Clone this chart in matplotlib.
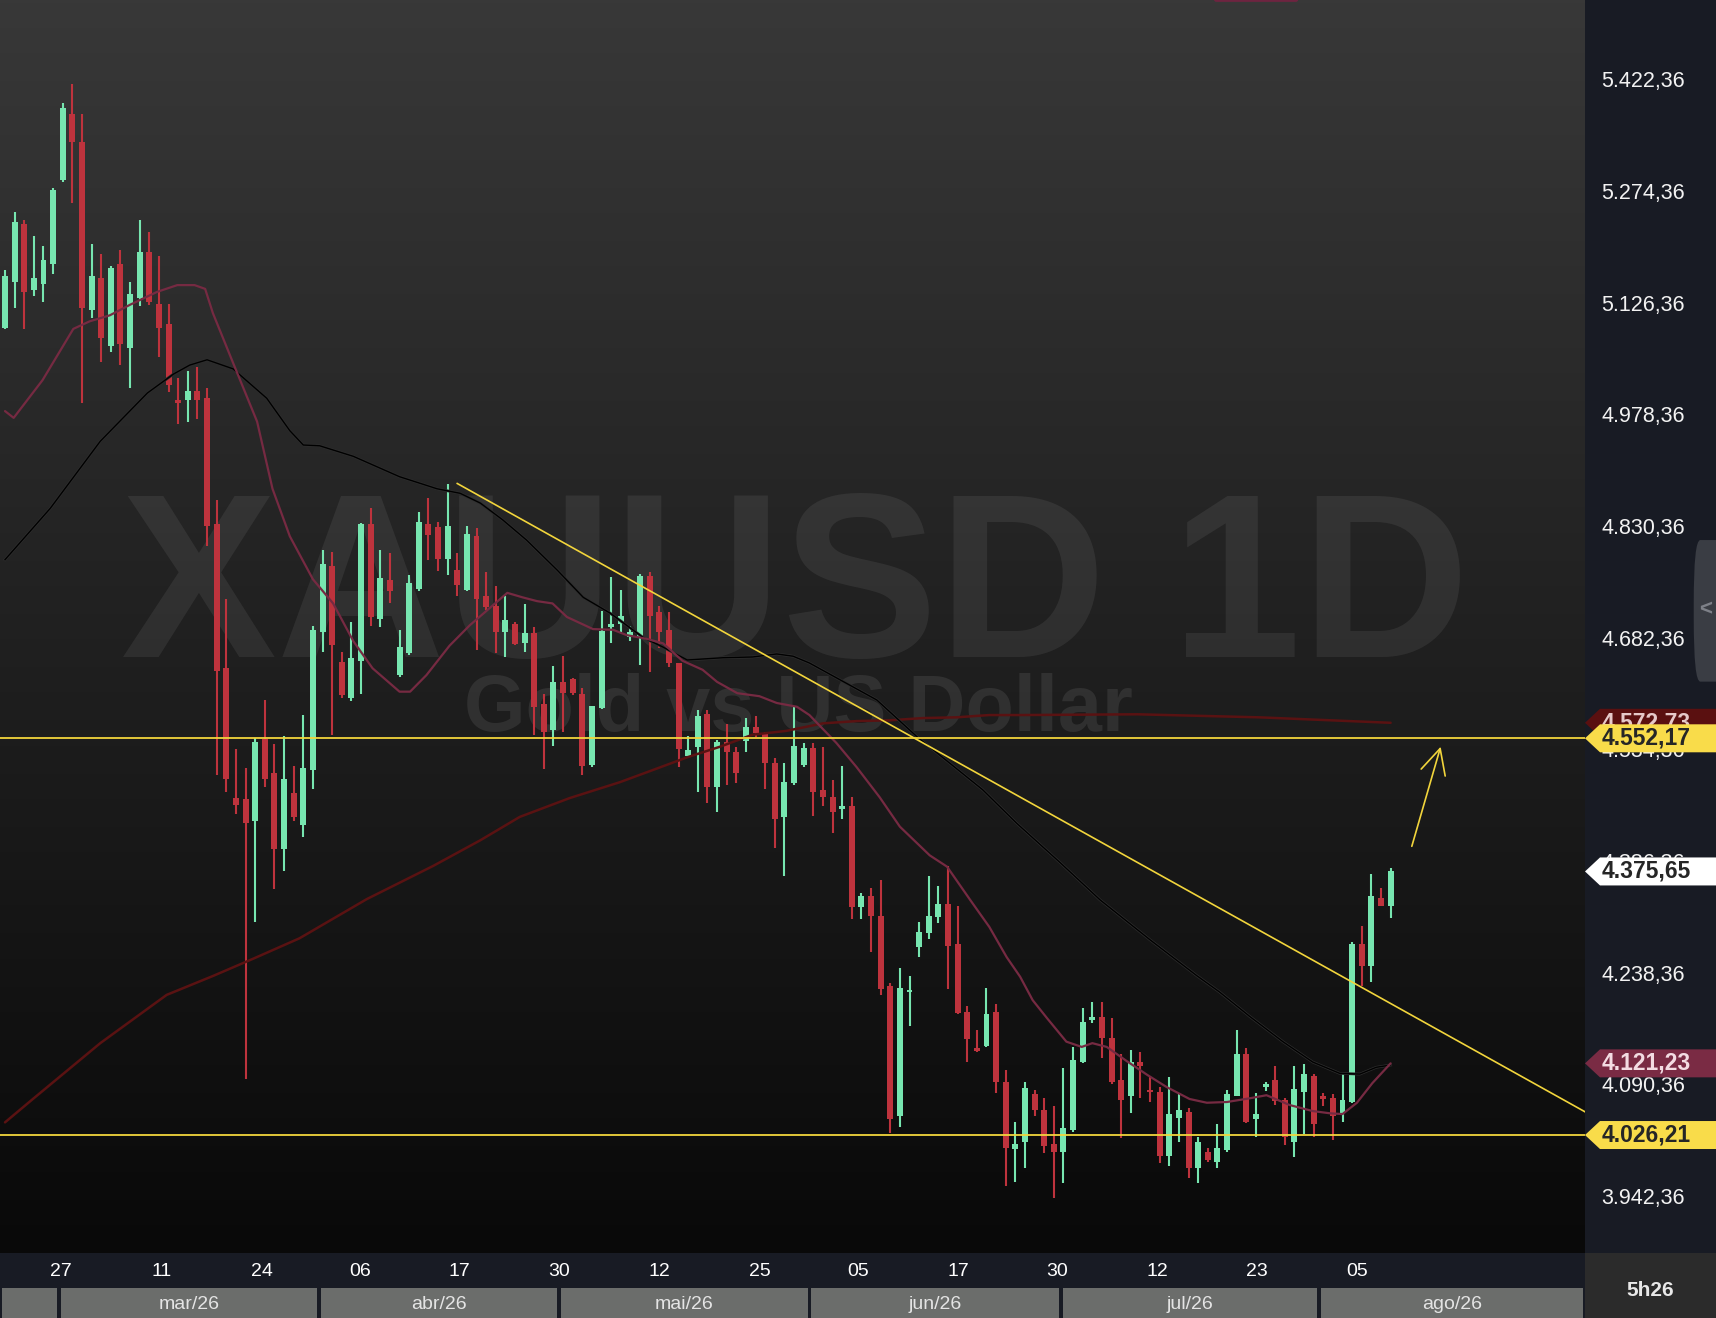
import numpy as np
import matplotlib.pyplot as plt
from matplotlib.patches import Polygon, Rectangle, FancyBboxPatch
from matplotlib import patheffects as pe

# daily candles XAUUSD (index 0 = first visible candle)
opens = [5096, 5157, 5234, 5147, 5154, 5181, 5292, 5380, 5343, 5120,
         5162, 5072, 5181, 5070, 5136, 5197, 5128, 5101, 5001, 5001,
         5013, 5003, 4836, 4645, 4473, 4472, 4443, 4551, 4506, 4405,
         4480, 4437, 4510, 4693, 4781, 4653, 4606, 4655, 4836, 4710,
         4762, 4636, 4665, 4750, 4836, 4832, 4790, 4775, 4749, 4820,
         4741, 4728, 4693, 4704, 4678, 4692, 4598, 4563, 4627, 4631,
         4611, 4517, 4592, 4700, 4704, 4686, 4686, 4767, 4720, 4696,
         4652, 4529, 4541, 4584, 4488, 4547, 4534, 4549, 4567, 4558,
         4519, 4448, 4493, 4517, 4539, 4484, 4474, 4458, 4462, 4329,
         4343, 4317, 4224, 4051, 4216, 4275, 4294, 4315, 4332, 4279,
         4189, 4142, 4144, 4189, 4096, 4008, 4017, 4081, 4059, 4014,
         4004, 4033, 4123, 4179, 4183, 4155, 4099, 4078, 4123, 4086,
         4083, 3998, 4049, 4057, 3982, 4004, 3990, 4006, 4078, 4134,
         4047, 4090, 4099, 4073, 4017, 4083, 4104, 4078, 4075, 4055,
         4070, 4279, 4250, 4340, 4330]
highs = [5173, 5250, 5239, 5218, 5205, 5282, 5394, 5420, 5380, 5208,
         5194, 5178, 5200, 5157, 5239, 5223, 5192, 5128, 5030, 5039,
         5044, 5017, 4868, 4737, 4538, 4513, 4553, 4603, 4545, 4555,
         4515, 4583, 4701, 4802, 4799, 4667, 4706, 4838, 4858, 4802,
         4798, 4696, 4769, 4852, 4871, 4839, 4889, 4798, 4834, 4831,
         4773, 4754, 4741, 4706, 4730, 4700, 4611, 4648, 4661, 4632,
         4619, 4595, 4721, 4766, 4749, 4701, 4770, 4773, 4728, 4720,
         4652, 4555, 4590, 4590, 4550, 4571, 4541, 4579, 4582, 4561,
         4526, 4519, 4594, 4546, 4546, 4541, 4497, 4515, 4474, 4347,
         4354, 4364, 4228, 4248, 4237, 4309, 4370, 4356, 4383, 4330,
         4197, 4165, 4221, 4200, 4112, 4043, 4096, 4086, 4075, 4065,
         4115, 4143, 4195, 4203, 4203, 4181, 4134, 4139, 4136, 4103,
         4090, 4103, 4082, 4062, 4024, 4009, 4041, 4086, 4165, 4142,
         4082, 4096, 4118, 4075, 4118, 4120, 4107, 4082, 4081, 4107,
         4282, 4303, 4372, 4354, 4380]
lows = [5095, 5123, 5095, 5139, 5131, 5168, 5290, 5262, 4997, 5109,
        5051, 5064, 5047, 5017, 5125, 5127, 5058, 5011, 4969, 4972,
        4976, 4807, 4504, 4481, 4452, 4100, 4309, 4488, 4352, 4376,
        4443, 4421, 4485, 4667, 4557, 4606, 4602, 4611, 4701, 4700,
        4731, 4634, 4663, 4748, 4789, 4774, 4769, 4741, 4747, 4669,
        4722, 4665, 4660, 4676, 4667, 4557, 4511, 4542, 4561, 4610,
        4504, 4514, 4591, 4679, 4693, 4681, 4649, 4640, 4672, 4647,
        4514, 4527, 4481, 4466, 4454, 4490, 4493, 4534, 4554, 4485,
        4407, 4370, 4490, 4514, 4449, 4462, 4427, 4445, 4313, 4313,
        4269, 4212, 4029, 4037, 4171, 4262, 4286, 4307, 4220, 4186,
        4123, 4136, 4143, 4082, 3959, 3964, 3982, 4051, 4002, 3943,
        3963, 4030, 4122, 4175, 4128, 4094, 4022, 4055, 4075, 4070,
        3989, 3985, 4017, 3969, 3963, 3990, 3982, 4004, 4078, 4042,
        4024, 4085, 4066, 4013, 3997, 4028, 4024, 4065, 4020, 4043,
        4069, 4224, 4229, 4330, 4314]
closes = [5165, 5237, 5144, 5162, 5186, 5279, 5388, 5343, 5123, 5165,
          5083, 5176, 5075, 5141, 5197, 5131, 5096, 5021, 4997, 5013,
          5001, 4834, 4641, 4498, 4464, 4440, 4547, 4498, 4405, 4498,
          4448, 4513, 4696, 4783, 4676, 4610, 4659, 4836, 4713, 4765,
          4747, 4673, 4758, 4839, 4822, 4790, 4834, 4755, 4823, 4737,
          4726, 4693, 4709, 4677, 4692, 4594, 4561, 4627, 4612, 4612,
          4515, 4595, 4694, 4704, 4714, 4693, 4767, 4714, 4693, 4652,
          4538, 4537, 4582, 4488, 4547, 4534, 4506, 4567, 4559, 4519,
          4445, 4494, 4542, 4539, 4481, 4474, 4454, 4462, 4329, 4343,
          4317, 4220, 4047, 4221, 4218, 4295, 4317, 4332, 4277, 4188,
          4153, 4137, 4187, 4096, 4009, 4014, 4089, 4059, 4012, 4004,
          4035, 4126, 4176, 4183, 4155, 4096, 4073, 4123, 4118, 4083,
          3998, 4054, 4059, 3982, 4017, 3993, 4009, 4081, 4134, 4043,
          4054, 4094, 4071, 4024, 4087, 4107, 4041, 4074, 4051, 4073,
          4279, 4250, 4343, 4330, 4375.65]

# moving averages (candle position, price)
ma_fast_x = [0.0, 0.9, 3.9, 7.1, 8.8, 10.9, 13.0, 15.8, 17.9, 19.7, 20.8, 21.6,
             23.7, 26.2, 27.8, 29.6, 32.0, 34.1, 36.2, 38.2, 41.0, 42.1, 43.8,
             46.2, 48.3, 52.2, 53.8, 55.3, 56.9, 58.4, 61.1, 63.2, 64.6, 66.7,
             68.4, 70.4, 72.5, 74.0, 76.1, 78.4, 80.2, 82.3, 83.6, 86.4, 88.5,
             90.9, 93.0, 96.1, 97.9, 100.3, 102.3, 104.1, 105.5, 106.8, 108.3,
             110.3, 111.9, 113.0, 114.5, 116.6, 118.7, 120.7, 123.1, 124.9,
             127.0, 129.4, 131.1, 133.5, 135.9, 137.7, 139.0, 140.5, 142.1, 144.0]
ma_fast_y = [4986, 4977, 5027, 5095, 5105, 5113, 5127, 5144, 5153, 5153, 5148, 5116,
             5050, 4972, 4883, 4820, 4763, 4731, 4681, 4645, 4614, 4614, 4636,
             4675, 4702, 4745, 4739, 4734, 4731, 4713, 4697, 4696, 4689, 4684,
             4678, 4655, 4643, 4627, 4612, 4608, 4599, 4594, 4583, 4546, 4514,
             4474, 4435, 4397, 4382, 4338, 4302, 4262, 4236, 4205, 4181,
             4150, 4143, 4148, 4143, 4124, 4106, 4090, 4074, 4069,
             4070, 4075, 4079, 4066, 4058, 4055, 4054, 4069, 4095, 4121.23]
ma_mid_x = [0.0, 4.7, 9.9, 14.8, 17.5, 19.2, 21.0, 23.7, 27.2, 29.6, 31.0, 32.7,
            36.2, 41.0, 44.9, 47.3, 49.4, 51.7, 54.2, 57.4, 60.1, 62.9, 66.3,
            68.4, 70.9, 74.6, 77.7, 80.2, 81.9, 83.6, 90.6, 94.8, 98.2, 101.6,
            105.1, 109.6, 113.8, 119.0, 123.8, 126.2, 129.4, 132.8, 135.9,
            138.7, 140.8, 142.5, 144.0]
ma_mid_y = [4789, 4857, 4946, 5010, 5035, 5047, 5054, 5042, 5003, 4960, 4941, 4940,
            4926, 4899, 4883, 4877, 4864, 4842, 4815, 4775, 4739, 4718, 4686,
            4673, 4656, 4659, 4660, 4664, 4661, 4652, 4603, 4554, 4519, 4484,
            4440, 4388, 4338, 4285, 4238, 4216, 4183, 4150, 4123,
            4108, 4107, 4116, 4119]
ma_slow_x = [0.0, 2.9, 9.9, 16.8, 21.6, 25.8, 30.6, 37.6, 44.5, 49.4, 53.5, 58.7,
             63.9, 67.3, 70.9, 74.3, 77.7, 81.2, 85.0, 88.5, 91.9, 95.4, 98.9,
             102.3, 105.5, 117.7, 130.3, 144.0]
ma_slow_y = [4043, 4074, 4148, 4212, 4237, 4260, 4287, 4339, 4383, 4417, 4448, 4473,
             4494, 4510, 4527, 4541, 4557, 4562, 4572, 4575, 4576, 4579, 4580,
             4583, 4583, 4584, 4580, 4572.73]

# drawings
resistance = 4552.17
support = 4026.21
trend_x = [47.0, 164.2]
trend_y = [4890, 4057]
arrow_from = (146.2, 4409)
arrow_to = (149.2, 4541)

price_ticks = [3942.36 + 148 * k for k in range(11)]
day_pos = [5.85, 16.3, 26.7, 36.9, 47.2, 57.6, 68.0, 78.4, 88.7, 99.1, 109.3, 119.8, 130.1, 140.5]
day_labels = ['27', '11', '24', '06', '17', '30', '12', '25', '05', '17', '30', '12', '23', '05']
month_edges = [-0.52, 5.6, 32.6, 57.6, 83.6, 109.7, 136.6, 164.2]
month_labels = ['', 'mar/26', 'abr/26', 'mai/26', 'jun/26', 'jul/26', 'ago/26']

XLIM = (-0.52, 164.2)
YLIM = (3869.8, 5531.0)
GREEN = '#77e6b0'
RED = '#be333d'
YELLOW = '#f2d53c'
PANEL = '#181b24'


def br(v):
    s = f"{v:,.2f}"
    return s.replace(',', '#').replace('.', ',').replace('#', '.')


plt.rcParams['font.family'] = ['Liberation Sans', 'DejaVu Sans']

W, H = 1716, 1318
fig = plt.figure(figsize=(W / 100, H / 100), dpi=100)
fig.patch.set_facecolor(PANEL)

ax = fig.add_axes([0, 65 / H, 1585 / W, 1253 / H])
ax.set_xlim(*XLIM)
ax.set_ylim(*YLIM)
ax.axis('off')

# background gradient
g = np.linspace(56, 9, 400) / 255.0
grad = np.stack([g, g, g], axis=-1)[:, None, :].repeat(2, axis=1)
ax.imshow(grad, extent=[XLIM[0], XLIM[1], YLIM[0], YLIM[1]], aspect='auto', zorder=0)

# watermark
ax.text(0.502, 0.4757, 'XAUUSD 1D', transform=ax.transAxes, ha='center', va='baseline',
        fontsize=168, fontweight='bold', color='white', alpha=0.07, zorder=1)
ax.text(0.504, 0.4166, 'Gold vs US Dollar', transform=ax.transAxes, ha='center', va='baseline',
        fontsize=57, fontweight='bold', color='white', alpha=0.085, zorder=1)

# small marker at the top edge of the chart
ax.add_patch(FancyBboxPatch((0.766, 0.9985), 0.053, 0.004, boxstyle='round,pad=0,rounding_size=0.0015',
                            transform=ax.transAxes, facecolor='#6e2440', edgecolor='none',
                            zorder=6, clip_on=False))

# candles
o = np.array(opens, float)
h = np.array(highs, float)
l = np.array(lows, float)
c = np.array(closes, float)
x = np.arange(len(o))
cols = np.where(c >= o, GREEN, RED)
ax.vlines(x, l, h, colors=cols, lw=1.5, zorder=2)
body_lo = np.minimum(o, c)
body_h = np.maximum(np.abs(c - o), 2.6)
ax.bar(x, body_h, bottom=body_lo, width=0.62, color=cols, lw=0, zorder=3)

# moving averages
ax.plot(ma_slow_x, ma_slow_y, color='#5a1212', lw=1.8, zorder=4, solid_capstyle='round')
ax.plot(ma_mid_x, ma_mid_y, color='#000000', lw=1.0, zorder=4,
        path_effects=[pe.withStroke(linewidth=2.0, foreground='#2e2e2e')])
ax.plot(ma_fast_x, ma_fast_y, color='#762a42', lw=1.6, zorder=4, solid_capstyle='round')

# drawings
ax.axhline(resistance, color=YELLOW, lw=1.3, zorder=5)
ax.axhline(support, color=YELLOW, lw=1.3, zorder=5)
ax.plot(trend_x, trend_y, color=YELLOW, lw=1.2, zorder=5)
ax.annotate('', xy=arrow_to, xytext=arrow_from, zorder=5,
            arrowprops=dict(arrowstyle='->,head_length=0.9,head_width=0.45', color=YELLOW,
                            lw=1.2, shrinkA=0, shrinkB=0, mutation_scale=20))

# price panel
ap = fig.add_axes([1585 / W, 65 / H, 131 / W, 1253 / H])
ap.set_xlim(0, 131)
ap.set_ylim(*YLIM)
ap.set_facecolor(PANEL)
ap.set_xticks([])
ap.set_yticks([])
for s in ap.spines.values():
    s.set_visible(False)
for v in price_ticks:
    ap.text(16, v, br(v), ha='left', va='center', fontsize=15.5, color='#f2f2f2', zorder=1)


def flag(price, face, tcolor, z):
    hh = 14 * 1.3258
    ap.add_patch(Polygon([(0, price), (15, price + hh), (131, price + hh), (131, price - hh),
                          (15, price - hh)], closed=True, facecolor=face, edgecolor='none',
                         zorder=z, clip_on=False))
    ap.text(17, price, br(price), ha='left', va='center', fontsize=16.5, fontweight='bold',
            color=tcolor, zorder=z + 0.5)


flag(ma_slow_y[-1], '#5a1010', '#e6c9c9', 2)
flag(resistance, '#f9dc4a', '#262626', 3)
flag(closes[-1], '#ffffff', '#262626', 3)
flag(ma_fast_y[-1], '#7a2b44', '#f3dbe2', 3)
flag(support, '#f9dc4a', '#262626', 3)

# side handle
ap.add_patch(FancyBboxPatch((0.83, 0.456), 0.3, 0.113, boxstyle='round,pad=0,rounding_size=0.05',
                            transform=ap.transAxes, facecolor='#3a3d44', edgecolor='none',
                            zorder=4, clip_on=False))
ap.text(0.92, 0.513, '<', transform=ap.transAxes, ha='center', va='center', fontsize=16,
        color='#7d8088', fontweight='bold', zorder=5)

# day axis
ad = fig.add_axes([0, 30 / H, 1585 / W, 35 / H])
ad.set_xlim(*XLIM)
ad.set_ylim(0, 1)
ad.axis('off')
ad.add_patch(Rectangle((XLIM[0], 0), XLIM[1] - XLIM[0], 1, facecolor=PANEL, edgecolor='none'))
for p, t in zip(day_pos, day_labels):
    ad.text(p, 0.46, t, ha='center', va='center', fontsize=14, color='white')

# month bar
am = fig.add_axes([0, 0, 1585 / W, 30 / H])
am.set_xlim(*XLIM)
am.set_ylim(0, 1)
am.axis('off')
am.add_patch(Rectangle((XLIM[0], 0), XLIM[1] - XLIM[0], 1, facecolor=PANEL, edgecolor='none'))
gap = 0.2
for a, b, t in zip(month_edges[:-1], month_edges[1:], month_labels):
    am.add_patch(Rectangle((a + gap, 0), b - a - 2 * gap, 1, facecolor='#6b6d6b', edgecolor='none'))
    am.text((a + b) / 2, 0.45, t, ha='center', va='center', fontsize=14, color='#e4e4e4')

# corner box
ac = fig.add_axes([1585 / W, 0, 131 / W, 65 / H])
ac.set_facecolor('#2b2b2b')
ac.set_xticks([])
ac.set_yticks([])
for s in ac.spines.values():
    s.set_visible(False)
ac.text(0.5, 0.42, '5h26', transform=ac.transAxes, ha='center', va='center', fontsize=15,
        fontweight='bold', color='#e8e8e8')

fig.savefig('out.png', dpi=100, facecolor=fig.get_facecolor())
